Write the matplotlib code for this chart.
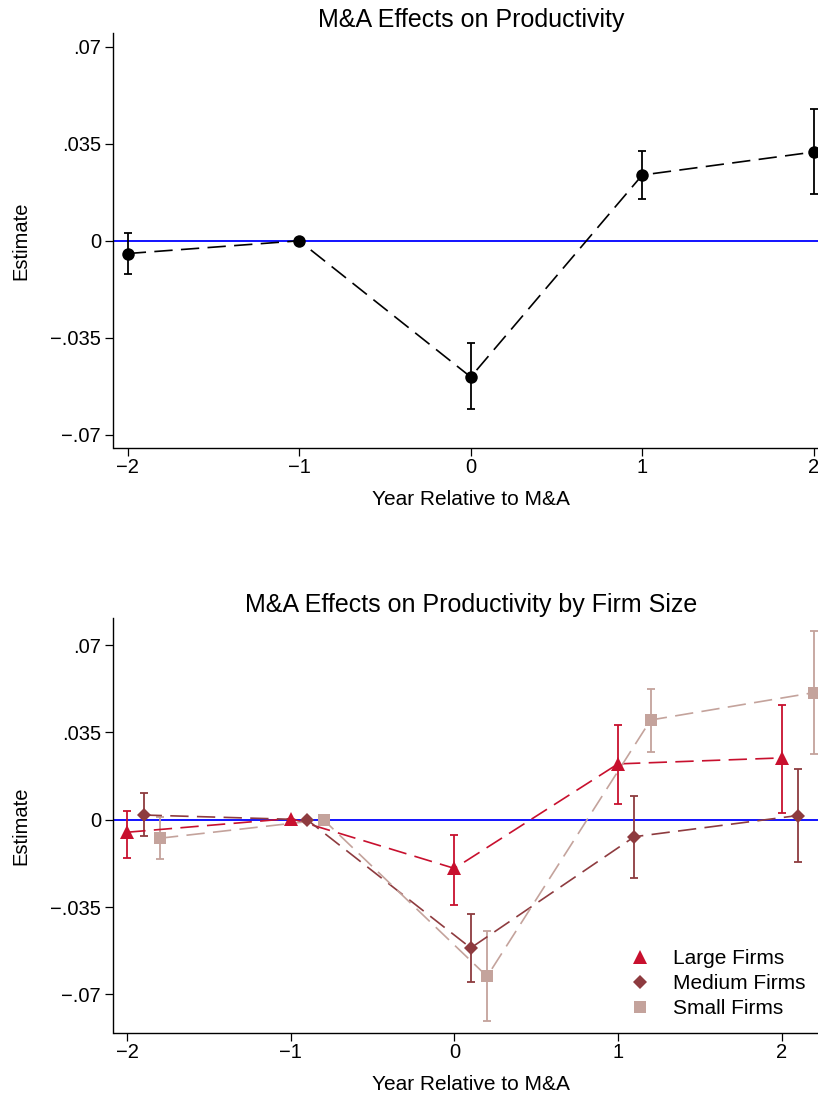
import numpy as np
import matplotlib
matplotlib.use("Agg")
import matplotlib.pyplot as plt
from matplotlib.lines import Line2D

plt.rcParams['font.family'] = ['Liberation Sans', 'DejaVu Sans']

# ---------------- data ----------------
years = [-2, -1, 0, 1, 2]
xtick_labels = ["\u22122", "\u22121", "0", "1", "2"]
yticks = [0.07, 0.035, 0.0, -0.035, -0.07]
ytick_labels = [".07", ".035", "0", "\u2212.035", "\u2212.07"]

# Top panel: overall estimates
all_est = [-0.0046, 0.0, -0.0491, 0.0237, 0.0320]
all_lo = [-0.0120, np.nan, -0.0608, 0.0149, 0.0169]
all_hi = [0.0029, np.nan, -0.0370, 0.0324, 0.0474]

# Bottom panel: by firm size
series_names = ["Large Firms", "Medium Firms", "Small Firms"]
large_est = [-0.0050, 0.0005, -0.0195, 0.0224, 0.0248]
large_lo = [-0.0154, np.nan, -0.0342, 0.0063, 0.0029]
large_hi = [0.0037, np.nan, -0.0062, 0.0381, 0.0461]

medium_est = [0.0019, 0.0, -0.0514, -0.0068, 0.0017]
medium_lo = [-0.0067, np.nan, -0.0650, -0.0235, -0.0168]
medium_hi = [0.0106, np.nan, -0.0377, 0.0094, 0.0205]

small_est = [-0.0074, 0.0, -0.0628, 0.0400, 0.0510]
small_lo = [-0.0157, np.nan, -0.0805, 0.0271, 0.0263]
small_hi = [0.0013, np.nan, -0.0445, 0.0526, 0.0757]

offsets = [0.0, 0.1, 0.2]

# ---------------- style ----------------
W, H = 818, 1095
fig = plt.figure(figsize=(W / 100, H / 100), dpi=100)

def px_axes(left, right, top, bottom):
    return fig.add_axes([left / W, 1 - bottom / H, (right - left) / W, (bottom - top) / H])

def style_axes(ax, title, ylim, xlim):
    ax.set_xlim(*xlim)
    ax.set_ylim(*ylim)
    for s in ("top", "right"):
        ax.spines[s].set_visible(False)
    for s in ("left", "bottom"):
        ax.spines[s].set_linewidth(1.0)
    ax.set_xticks(years)
    ax.set_xticklabels(xtick_labels)
    ax.set_yticks(yticks)
    ax.set_yticklabels(ytick_labels)
    ax.tick_params(axis="both", direction="out", length=6, width=0.9, labelsize=14.5, pad=3)
    ax.tick_params(axis="x", pad=1.5)
    ax.set_xlabel("Year Relative to M&A", fontsize=15, labelpad=9)
    ax.set_ylabel("Estimate", fontsize=14.5, labelpad=14)
    ax.set_title(title, fontsize=18, pad=4)
    ax.axhline(0, color="#0000FF", lw=1.3, zorder=1)

def draw_series(ax, xs, est, lo, hi, color, marker, ms, lw_line=1.2, dash=(11, 5)):
    xs = np.asarray(xs, float)
    est = np.asarray(est, float)
    lo = np.asarray(lo, float)
    hi = np.asarray(hi, float)
    m = ~np.isnan(lo)
    ax.errorbar(xs[m], est[m], yerr=[est[m] - lo[m], hi[m] - est[m]], fmt="none",
                ecolor=color, elinewidth=1.3, capsize=3, capthick=1.3, zorder=2)
    ax.plot(xs, est, linestyle=(0, dash), color=color, lw=lw_line, zorder=3)
    ax.plot(xs, est, linestyle="none", marker=marker, color=color, ms=ms,
            markeredgewidth=0, zorder=4)

# ---------------- top panel ----------------
ax1 = px_axes(113.5, 828, 33, 448)
style_axes(ax1, "M&A Effects on Productivity", (-0.0747, 0.0749), (-2.083, 2.083))
draw_series(ax1, years, all_est, all_lo, all_hi, "black", "o", 9, lw_line=1.2, dash=(11, 5))

# ---------------- bottom panel ----------------
ax2 = px_axes(113.5, 828, 618, 1033)
style_axes(ax2, "M&A Effects on Productivity by Firm Size", (-0.0855, 0.0809), (-2.084, 2.284))

colors = ["#C8102E", "#8E3B3F", "#C4A39C"]
markers = ["^", "D", "s"]
msizes = [9.5, 7, 9]
data = [(large_est, large_lo, large_hi), (medium_est, medium_lo, medium_hi),
        (small_est, small_lo, small_hi)]
handles = []
for name, off, col, mk, msz, (e, l, h) in zip(series_names, offsets, colors, markers, msizes, data):
    xs = [y + off for y in years]
    draw_series(ax2, xs, e, l, h, col, mk, msz, lw_line=1.2, dash=(11, 5))
    handles.append(Line2D([], [], linestyle="none", marker=mk, color=col, ms=msz,
                          markeredgewidth=0, label=name))

leg = ax2.legend(handles=handles, loc="lower right", bbox_to_anchor=(820 / W, 1 - 1033 / H),
                 bbox_transform=fig.transFigure, frameon=False, fontsize=15,
                 handlelength=1.0, handletextpad=1.1, labelspacing=0.3, borderpad=0.2)

fig.savefig("out.png", dpi=100)
